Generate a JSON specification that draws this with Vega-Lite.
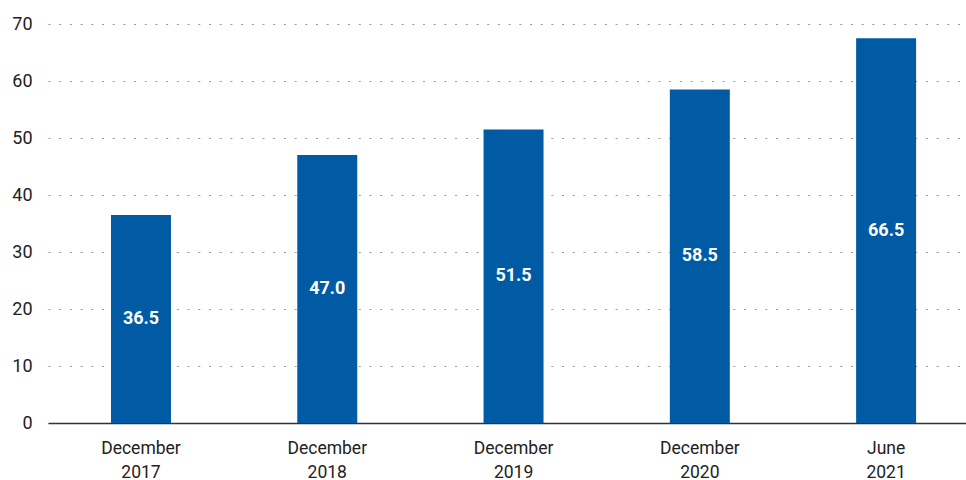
{
  "$schema": "https://vega.github.io/schema/vega-lite/v6.json",
  "width": 918,
  "height": 399,
  "autosize": {"type": "none"},
  "padding": {"left": 48, "top": 24, "right": 0, "bottom": 57},
  "background": "white",
  "config": {"view": {"stroke": null}, "font": "Roboto"},
  "data": {
    "values": [
      {"period": "December 2017", "value": 36.5, "label": "36.5"},
      {"period": "December 2018", "value": 47.0, "label": "47.0"},
      {"period": "December 2019", "value": 51.5, "label": "51.5"},
      {"period": "December 2020", "value": 58.5, "label": "58.5"},
      {"period": "June 2021", "value": 67.5, "label": "66.5"}
    ]
  },
  "encoding": {
    "x": {
      "field": "period", "type": "nominal", "sort": null,
      "scale": {"paddingInner": 0.678, "paddingOuter": 0.303, "align": 0.558},
      "axis": {
        "title": null, "labelAngle": 0, "ticks": false,
        "domainColor": "#333333", "domainWidth": 1.5,
        "labelExpr": "split(datum.label, ' ')",
        "labelFont": "Roboto", "labelFontSize": 17.5,
        "labelColor": "#222222", "labelPadding": 16, "labelLineHeight": 24,
        "labelBaseline": "top"
      }
    }
  },
  "layer": [
    {
      "mark": {"type": "bar", "color": "#005BA4"},
      "encoding": {
        "y": {
          "field": "value", "type": "quantitative",
          "scale": {"domain": [0, 70], "nice": false},
          "axis": {
            "title": null, "values": [0, 10, 20, 30, 40, 50, 60, 70],
            "labelOverlap": false,
            "domain": false, "ticks": false,
            "grid": true, "gridColor": "#999999", "gridDash": [2, 8.7], "gridWidth": 1,
            "labelFont": "Roboto", "labelFontSize": 18,
            "labelColor": "#222222", "labelPadding": 16
          }
        }
      }
    },
    {
      "transform": [{"calculate": "datum.value / 2", "as": "mid"}],
      "mark": {"type": "text", "color": "white", "fontWeight": "bold", "fontSize": 18, "font": "Roboto", "baseline": "middle"},
      "encoding": {
        "y": {"field": "mid", "type": "quantitative"},
        "text": {"field": "label"}
      }
    }
  ]
}
